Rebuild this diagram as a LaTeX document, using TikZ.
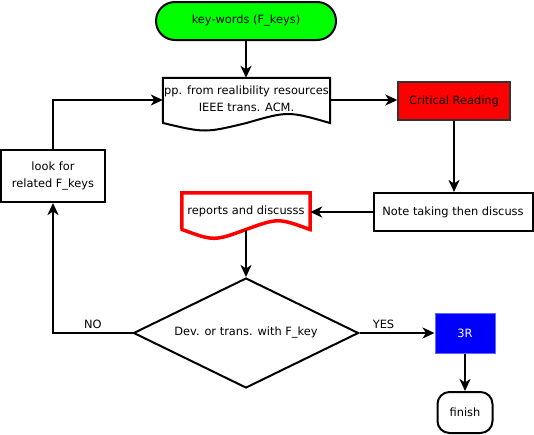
\documentclass[tikz,border=0pt]{standalone}
\usepackage{fontspec}
\setmainfont{DejaVu Sans}
\usetikzlibrary{shapes.geometric,arrows.meta}

\begin{document}
\begin{tikzpicture}[x=1pt,y=-1pt,font=\fontsize{11.4}{17}\selectfont,
	arrow/.style={draw=black,line width=2pt,-{Stealth[length=12pt,width=11pt,inset=3.5pt]}},
	box/.style={draw=black,line width=2pt,inner sep=0pt,align=center}]
		\useasboundingbox (0,0) rectangle (534,434);
		
		%nodes
		\node[box,fill=green,rounded corners=19pt,minimum width=180pt,minimum height=38pt] (keys) at (246,21) {key-words (F\_keys)};
		\node[align=center,inner sep=0pt,minimum width=167pt,minimum height=44pt] (pp) at (246.5,100) {\raisebox{2pt}{\begin{tabular}{@{}c@{}}pp. from realibility resources\\IEEE trans. ACM.\end{tabular}}};
		\node[box,fill=red,draw=black!80,line width=1.4pt,minimum width=112pt,minimum height=38pt] (crit) at (454,101) {Critical Reading};
		\node[box,minimum width=159pt,minimum height=38pt] (note) at (453,212) {Note taking then discuss};
		\node[align=center,inner sep=0pt,minimum width=128pt,minimum height=36pt] (reports) at (246,211) {reports and discusss};
		\node[box,minimum width=104pt,minimum height=52pt] (look) at (53,176) {look for\\related F\_keys};
		\node[diamond,aspect=2.05,draw=black,line width=2pt,inner sep=0pt,minimum width=225pt,minimum height=110pt] (dec) at (246,333) {Dev. or trans. with F\_key};
		\node[box,fill=blue,draw=blue!60!white,line width=1pt,text=white,minimum width=60pt,minimum height=40pt] (rrr) at (465,333) {3R};
		\node[box,rounded corners=12pt,minimum width=55pt,minimum height=41pt] (fin) at (465,412.5) {finish};
		
		%document outlines
		\draw[line width=2pt] (pp.north west) -- (pp.north east) -- (330,123) .. controls (288,111) .. (246.5,123) .. controls (205,133) .. (163,123) -- cycle;
		\draw[red,line width=3.5pt] (reports.north west) -- (reports.north east) -- (310,229.5) .. controls (278,217.9) .. (246,229.5) .. controls (214,241.2) .. (182,229.5) -- cycle;
		\coordinate (repbot) at (246,229.5);
		
		%connectors
		\draw[arrow] (keys.south) -- (keys.south |- pp.north);
		\draw[arrow] (pp.east) -- (pp.east -| crit.west);
		\draw[arrow] (crit.south) -- (crit.south |- note.north);
		\draw[arrow] (note.west) -- (note.west -| reports.east);
		\draw[arrow] (repbot) -- (dec.north);
		\draw[arrow] (dec.west) -| node[pos=0.25,above]{NO} (look.south);
		\draw[arrow] (look.north) |- (pp.west);
		\draw[arrow] (dec.east) -- node[pos=0.32,above]{YES} (rrr.west);
		\draw[arrow] (rrr.south) -- (fin.north);
		
	\end{tikzpicture}
\end{document}
